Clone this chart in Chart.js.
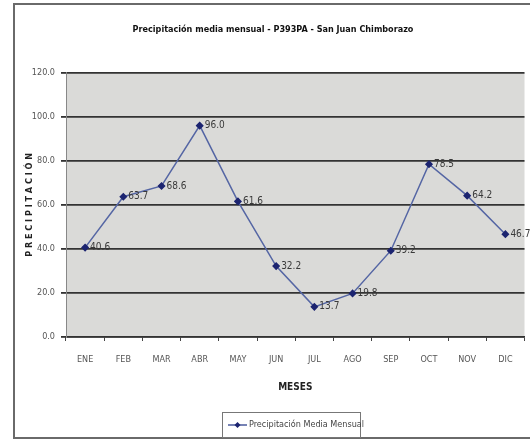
<!DOCTYPE html>
<html>
<head>
<meta charset="utf-8">
<script src="https://cdn.jsdelivr.net/npm/chart.js@4"></script>
<style>
  html, body { margin: 0; padding: 0; background: #fff; }
  #wrap { width: 530px; height: 441px; position: relative; }
</style>
</head>
<body>
<div id="wrap"><canvas id="grafico" width="530" height="441"></canvas></div>
<script>
const meses = ["ENE", "FEB", "MAR", "ABR", "MAY", "JUN", "JUL", "AGO", "SEP", "OCT", "NOV", "DIC"]
const precipitacion = [40.6, 63.7, 68.6, 96.0, 61.6, 32.2, 13.7, 19.8, 39.2, 78.5, 64.2, 46.7]
const titulo = "Precipitación media mensual - P393PA - San Juan Chimborazo"
const serieNombre = "Precipitación Media Mensual"

const fuente = "'Liberation Sans Narrow', 'DejaVu Sans Condensed', 'Liberation Sans', sans-serif"

// fondo, marco y leyenda
const marco = {
  id: 'marco',
  beforeDraw(chart) {
    const ctx = chart.ctx
    const a = chart.chartArea
    ctx.save()
    ctx.fillStyle = '#ffffff'
    ctx.fillRect(0, 0, chart.width, chart.height)
    ctx.strokeStyle = '#6a6a6a'
    ctx.lineWidth = 2
    ctx.strokeRect(14, 4, 540, 434)
    ctx.fillStyle = '#dadad8'
    ctx.fillRect(a.left, a.top, a.right - a.left, a.bottom - a.top)
    ctx.restore()
  },
  afterDraw(chart) {
    const ctx = chart.ctx
    ctx.save()
    // leyenda
    ctx.strokeStyle = '#777'
    ctx.lineWidth = 1
    ctx.strokeRect(222.5, 412.5, 138, 25)
    ctx.strokeStyle = '#4a5a9c'
    ctx.lineWidth = 1.5
    ctx.beginPath()
    ctx.moveTo(228, 425)
    ctx.lineTo(247, 425)
    ctx.stroke()
    ctx.fillStyle = '#1c2470'
    ctx.beginPath()
    ctx.moveTo(237.5, 422)
    ctx.lineTo(240.5, 425)
    ctx.lineTo(237.5, 428)
    ctx.lineTo(234.5, 425)
    ctx.closePath()
    ctx.fill()
    ctx.fillStyle = '#444'
    ctx.font = "9px " + fuente
    ctx.textBaseline = 'middle'
    ctx.fillText(serieNombre, 249, 425)
    ctx.restore()
  }
}

// etiquetas de valor a la derecha de cada punto
const etiquetas = {
  id: 'etiquetas',
  afterDatasetsDraw(chart) {
    const ctx = chart.ctx
    const meta = chart.getDatasetMeta(0)
    ctx.save()
    ctx.fillStyle = '#3a3a3a'
    ctx.font = "10px " + fuente
    ctx.textBaseline = 'middle'
    meta.data.forEach((p, i) => {
      ctx.fillText(precipitacion[i].toFixed(1), p.x + 5, p.y)
    })
    ctx.restore()
  }
}

const config = {
  type: 'line',
  data: {
    labels: meses,
    datasets: [{
      label: serieNombre,
      data: precipitacion,
      borderColor: '#5566a4',
      borderWidth: 1.5,
      pointStyle: 'rectRot',
      pointRadius: 3,
      pointBackgroundColor: '#1c2470',
      pointBorderColor: '#1c2470',
      tension: 0
    }]
  },
  options: {
    responsive: false,
    animation: false,
    layout: { padding: { left: 16, right: 0, top: 0, bottom: 44 } },
    plugins: {
      legend: { display: false },
      tooltip: { enabled: false },
      title: {
        display: true,
        text: titulo,
        color: '#111',
        font: { family: fuente, size: 9, weight: 'bold' },
        padding: { top: 24, bottom: 38 }
      }
    },
    scales: {
      x: {
        offset: true,
        afterFit(scale) { scale.height = 60 },
        grid: { offset: true, drawOnChartArea: false, drawTicks: true, tickLength: 4, color: '#444' },
        border: { color: '#333', width: 1.5 },
        ticks: { color: '#555', padding: 13, font: { family: fuente, size: 9 } },
        title: {
          display: true, text: 'MESES', color: '#222',
          font: { family: fuente, size: 10, weight: 'bold' },
          padding: { top: 0, bottom: 4 }
        }
      },
      y: {
        min: 0,
        max: 120,
        afterFit(scale) { scale.width = 50 },
        grid: { color: '#333', lineWidth: 1.8, tickLength: 5 },
        border: { color: '#888', width: 1 },
        ticks: {
          stepSize: 20, color: '#555', padding: 6,
          font: { family: fuente, size: 9 },
          callback: (v) => v.toFixed(1)
        },
        title: {
          display: true, text: 'P R E C I P I T A C I Ó N', color: '#222',
          font: { family: fuente, size: 9, weight: 'bold' },
          padding: { top: 8, bottom: 0 }
        }
      }
    }
  },
  plugins: [marco, etiquetas]
}

const chart = new Chart(document.getElementById("grafico"), config)
</script>
</body>
</html>
